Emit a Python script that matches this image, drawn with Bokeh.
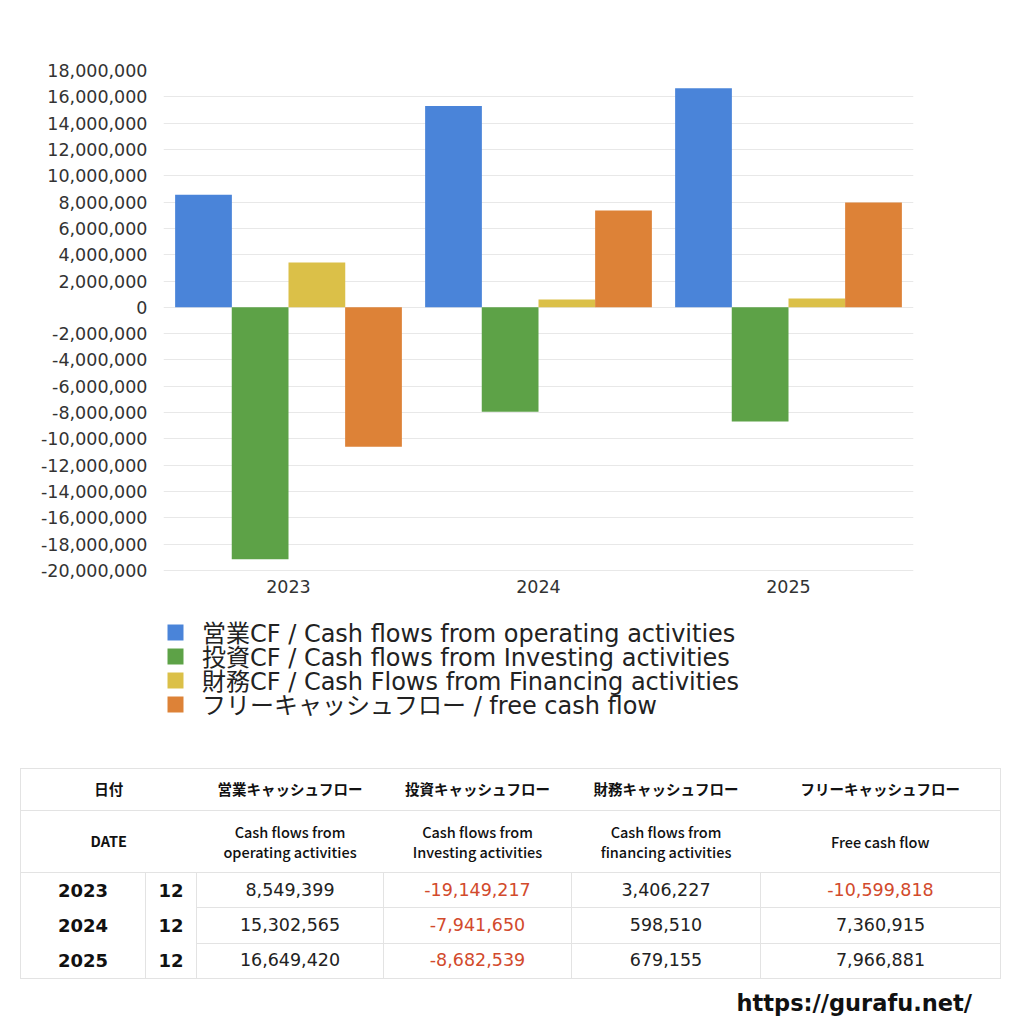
from bokeh.plotting import figure
from bokeh.models import (ColumnDataSource, FactorRange, Range1d, FixedTicker,
                          NumeralTickFormatter, Legend, LegendItem, Div)
from bokeh.transform import dodge
from bokeh.layouts import column
from bokeh.embed import file_html
from bokeh.resources import INLINE

# ---- data ----
years = ["2023", "2024", "2025"]
months = ["12", "12", "12"]
operating_cf = [8549399, 15302565, 16649420]
investing_cf = [-19149217, -7941650, -8682539]
financing_cf = [3406227, 598510, 679155]
free_cf = [-10599818, 7360915, 7966881]

series_labels = [
    "営業CF / Cash flows from operating activities",
    "投資CF / Cash flows from Investing activities",
    "財務CF / Cash Flows from Financing activities",
    "フリーキャッシュフロー / free cash flow",
]
header_jp = ["日付", "営業キャッシュフロー", "投資キャッシュフロー", "財務キャッシュフロー", "フリーキャッシュフロー"]
header_en = ["DATE", "Cash flows from<br>operating activities", "Cash flows from<br>Investing activities",
             "Cash flows from<br>financing activities", "Free cash flow"]
y_min, y_max = -20000000, 18000000
y_ticks = list(range(y_min, y_max + 1, 2000000))

colors = ["#4a84d9", "#5da247", "#dbc048", "#dd8237"]
offsets = [-0.34, -0.1135, 0.1135, 0.34]
bar_w = 0.227

FONT = "Noto Sans CJK JP"
LEGEND_FONT = "DejaVu Sans, Noto Sans CJK JP"

# chart area: 500 px for the value range, plus extra room below for the legend
chart_px = 500
extra_px = 160
y_low = y_min - (y_max - y_min) * extra_px / chart_px

source = ColumnDataSource(dict(year=years, op=operating_cf, inv=investing_cf,
                               fin=financing_cf, free=free_cf))

p = figure(x_range=FactorRange(*years, range_padding=0),
           y_range=Range1d(y_low, y_max),
           frame_width=750, frame_height=chart_px + extra_px,
           min_border_left=163, min_border_right=100, min_border_top=70, min_border_bottom=10,
           output_backend="svg", toolbar_location=None)
p.outline_line_color = None
p.background_fill_color = "white"
p.border_fill_color = "white"

renderers = []
for col, off, c in zip(["op", "inv", "fin", "free"], offsets, colors):
    r = p.vbar(x=dodge("year", off, range=p.x_range), top=col, width=bar_w,
               source=source, fill_color=c, line_color=None)
    renderers.append(r)

p.yaxis.ticker = FixedTicker(ticks=y_ticks)
p.yaxis.formatter = NumeralTickFormatter(format="0,0")
p.xaxis.fixed_location = y_min
for ax in (p.xaxis, p.yaxis):
    ax.axis_line_color = None
    ax.major_tick_line_color = None
    ax.minor_tick_line_color = None
    ax.major_label_text_font = "DejaVu Sans"
    ax.major_label_text_font_size = "17.5px"
    ax.major_label_text_color = "#333333"
p.yaxis.major_label_standoff = 10
p.xaxis.major_label_standoff = 3
p.xgrid.grid_line_color = None
p.ygrid.grid_line_color = "#e8e8e8"
p.ygrid.ticker = FixedTicker(ticks=y_ticks)

# one legend box per series so that the rows sit 24 px apart
row_pitch = 24
for k, (lab, r) in enumerate(zip(series_labels, renderers)):
    lg = Legend(items=[LegendItem(label=lab, renderers=[r])],
                location=(2, 9 + row_pitch * (len(series_labels) - 1 - k)), orientation="vertical")
    lg.label_text_font = LEGEND_FONT
    lg.label_text_font_size = "24px"
    lg.label_text_color = "#222222"
    lg.glyph_width = 20
    lg.glyph_height = 20
    lg.label_height = 20
    lg.label_standoff = 17
    lg.padding = 0
    lg.margin = 0
    lg.border_line_color = None
    lg.background_fill_alpha = 0
    p.add_layout(lg, "center")

# ---- table ----
NUMF = "'DejaVu Sans',sans-serif"


def fmt(v):
    s = f"{v:,}"
    if v < 0:
        return f'<span style="color:#d24a2c">{s}</span>'
    return s


bc = "#e3e3e3"
col_w = [125, 51, 187, 188, 189, 240]
rows_html = []
rows_html.append(
    f'<tr style="height:42px;font-weight:bold;font-size:14.5px;border-bottom:1px solid {bc}">'
    f'<td colspan="2">{header_jp[0]}</td>' + "".join(f"<td>{h}</td>" for h in header_jp[1:]) + "</tr>")
rows_html.append(
    f'<tr style="height:62px;font-size:14.5px;font-weight:500;border-bottom:1px solid {bc}">'
    f'<td colspan="2" style="font-weight:bold">{header_en[0]}</td>' +
    "".join(f'<td style="line-height:20px">{h}</td>' for h in header_en[1:]) + "</tr>")
for i, y in enumerate(years):
    cells = []
    if i == 0:
        cells.append(f'<td rowspan="3" style="padding:0;font-family:{NUMF}">'
                     + "".join(f'<div style="height:35px;line-height:35px;font-weight:bold;font-size:18px">{yy}</div>' for yy in years)
                     + "</td>")
        cells.append(f'<td rowspan="3" style="padding:0;border-left:1px solid {bc};font-family:{NUMF}">'
                     + "".join(f'<div style="height:35px;line-height:35px;font-weight:bold;font-size:18px">{m}</div>' for m in months)
                     + "</td>")
    vals = [operating_cf[i], investing_cf[i], financing_cf[i], free_cf[i]]
    tb = f"border-top:1px solid {bc};" if i > 0 else ""
    cells += [f'<td style="border-left:1px solid {bc};{tb}font-size:17.5px;padding:0;font-family:{NUMF};color:#222">{fmt(v)}</td>'
              for v in vals]
    rows_html.append(f'<tr style="height:35px">' + "".join(cells) + "</tr>")

colgroup = "<colgroup>" + "".join(f'<col style="width:{w}px">' for w in col_w) + "</colgroup>"
table_html = (
    f'<div style="padding-left:15px;padding-top:23px;font-family:\'{FONT}\',sans-serif;color:#111">'
    f'<table style="border-collapse:collapse;table-layout:fixed;width:980px;text-align:center;border:1px solid {bc}">'
    + colgroup + "".join(rows_html) + "</table>"
    f'<div style="width:952px;text-align:right;font-weight:bold;font-size:22.5px;margin-top:8px;'
    f'font-family:\'DejaVu Sans\',sans-serif;color:#111">https://gurafu.net/</div>'
    "</div>")
div = Div(text=table_html, width=1010, height=275)

layout = column(p, div)
open("out.html", "w").write(file_html(layout, INLINE))
